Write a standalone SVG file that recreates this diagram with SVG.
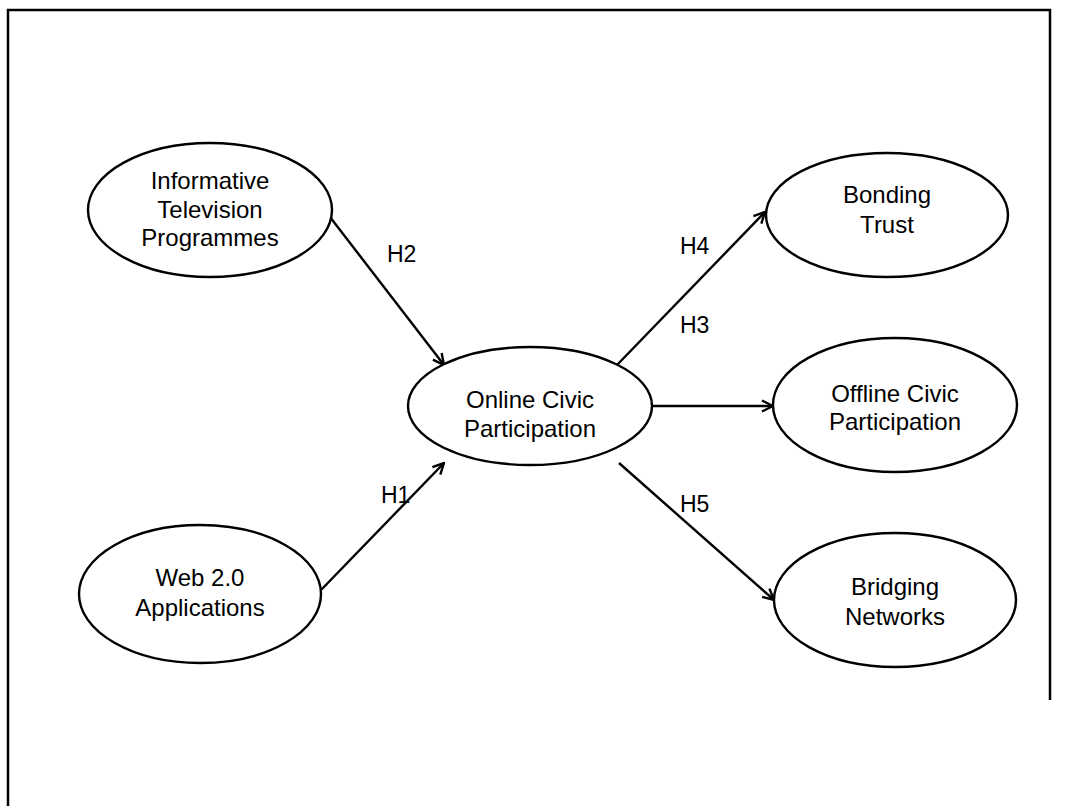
<svg xmlns="http://www.w3.org/2000/svg" width="1069" height="806" viewBox="0 0 1069 806">
<style>
.node ellipse{fill:#fff;stroke:#000;stroke-width:2.4}
text{font-family:"Liberation Sans",Arial,sans-serif;font-size:24px;fill:#000}
.node text{text-anchor:middle}
.conn line{stroke:#000;stroke-width:2.4}
.lbl{font-size:23px}
</style>
<defs>
<marker id="arr" viewBox="0 0 14 14" refX="13" refY="7" markerWidth="14" markerHeight="14" markerUnits="userSpaceOnUse" orient="auto">
<path d="M2,1.5 L13,7 L2,12.5" fill="none" stroke="#000" stroke-width="2.4"/>
</marker>
</defs>
<rect x="0" y="0" width="1069" height="806" fill="#fff"/>
<path d="M8,806 V10 H1050 V700" fill="none" stroke="#000" stroke-width="2.5"/>
<g class="conn">
<line x1="330" y1="217" x2="444" y2="365" marker-end="url(#arr)"/>
<line x1="321" y1="590" x2="444" y2="463" marker-end="url(#arr)"/>
<line x1="617" y1="365" x2="765" y2="212" marker-end="url(#arr)"/>
<line x1="651" y1="406" x2="773" y2="406" marker-end="url(#arr)"/>
<line x1="619" y1="463" x2="774" y2="600" marker-end="url(#arr)"/>
<text class="lbl" x="387" y="262">H2</text>
<text class="lbl" x="381" y="503">H1</text>
<text class="lbl" x="680" y="254">H4</text>
<text class="lbl" x="680" y="333">H3</text>
<text class="lbl" x="680" y="512">H5</text>
</g>
<g id="informative" class="node">
<ellipse cx="210" cy="210" rx="122" ry="67"/>
<text x="210" y="189">Informative</text>
<text x="210" y="218">Television</text>
<text x="210" y="246">Programmes</text>
</g>
<g id="web" class="node">
<ellipse cx="200" cy="594" rx="121" ry="69"/>
<text x="200" y="586">Web 2.0</text>
<text x="200" y="616">Applications</text>
</g>
<g id="online" class="node">
<ellipse cx="530" cy="406" rx="122" ry="59"/>
<text x="530" y="408">Online Civic</text>
<text x="530" y="437">Participation</text>
</g>
<g id="bonding" class="node">
<ellipse cx="887" cy="215" rx="121" ry="62"/>
<text x="887" y="203">Bonding</text>
<text x="887" y="233">Trust</text>
</g>
<g id="offline" class="node">
<ellipse cx="895" cy="405" rx="122" ry="67"/>
<text x="895" y="402">Offline Civic</text>
<text x="895" y="430">Participation</text>
</g>
<g id="bridging" class="node">
<ellipse cx="895" cy="600" rx="121" ry="67"/>
<text x="895" y="595">Bridging</text>
<text x="895" y="625">Networks</text>
</g>
</svg>
